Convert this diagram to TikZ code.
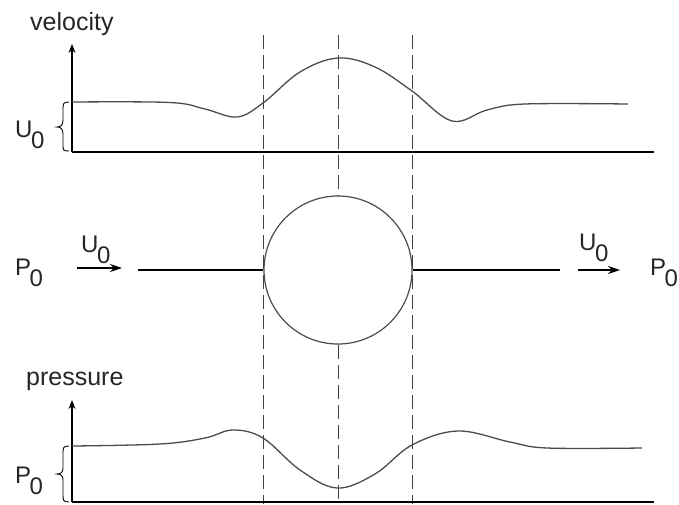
\documentclass[tikz,border=0pt]{standalone}
\usepackage{fontspec}
\setmainfont{Liberation Sans}
\usetikzlibrary{arrows.meta}
\newcommand{\subzero}[1]{#1\kern-1.5pt\raisebox{-11pt}{0}}
\tikzset{
  axis/.style={line width=1.2pt, black, -{Stealth[length=9pt,width=7pt]}},
  baseaxis/.style={line width=1.2pt, black},
  curve/.style={line width=1.3pt, black!70},
  guide/.style={line width=1pt, black!75, dash pattern=on 14pt off 6pt},
  flowarrow/.style={line width=1.1pt, black, -{Stealth[length=12pt,width=8pt]}},
  flowline/.style={line width=1.1pt, black},
  ball/.style={line width=1.2pt, black!70},
  bracestyle/.style={line width=0.9pt, black},
  word/.style={inner sep=0pt, anchor=base west, text=black!85, font=\fontsize{25}{30}\selectfont},
  sym/.style={inner sep=0pt, anchor=base west, text=black!85, font=\fontsize{24}{28}\selectfont}
}
\begin{document}
\begin{tikzpicture}[x=1pt,y=-1pt]
\useasboundingbox (0,0) rectangle (679,504);
\fill[white] (0,0) rectangle (679,504);

% ---------- velocity graph ----------
\coordinate (vo) at (72,152);
\coordinate (vtop) at (72,44);
\coordinate (vend) at (654,152);
\draw[axis] (vo) -- (vtop);
\draw[baseaxis] (vo) -- (vend);
\node[word] (vlab) at (30,30) {velocity};
\draw[curve] plot[smooth, tension=0.6] coordinates {
 (72,102) (170,102.5) (205,109) (237,117) (263,103) (300,72) (338,58)
 (375,67) (412,91) (452,121) (487,110) (525,104) (628,104)};
\draw[bracestyle] (69,102) .. controls (63,102) and (63,104) .. (63,109)
  -- (63,120) .. controls (63,125) and (61,127) .. (57,127)
  .. controls (61,127) and (63,129) .. (63,134)
  -- (63,145) .. controls (63,150) and (63,151) .. (69,151);
\node[sym] (ulab) at (15,137) {\subzero{U}};

% ---------- guides ----------
\coordinate (g1t) at (263,35);
\coordinate (g1b) at (263,504);
\coordinate (g3t) at (412,35);
\coordinate (g3b) at (412,504);
\coordinate (g2t) at (338,35);
\coordinate (g2b) at (338,504);

% ---------- body ----------
\node[circle, draw, ball, minimum size=148pt, inner sep=0pt] (sph) at (338,270) {};
\draw[guide] (g1t) -- (g1b);
\draw[guide] (g3t) -- (g3b);
\draw[guide] (g2t) -- (sph.north);
\draw[guide] (sph.south) -- (g2b);

\coordinate (lline) at (138,270);
\coordinate (rline) at (560,270);
\draw[flowline] (lline) -- (sph.west);
\draw[flowline] (sph.east) -- (rline);

\coordinate (la1) at (77,268);
\coordinate (la2) at (122,268);
\draw[flowarrow] (la1) -- (la2);
\coordinate (ra1) at (578,270);
\coordinate (ra2) at (620,270);
\draw[flowarrow] (ra1) -- (ra2);

\node[sym] (pleft) at (15,275) {\subzero{P}};
\node[sym] (uleft) at (81,252) {\subzero{U}};
\node[sym] (uright) at (579,250) {\subzero{U}};
\node[sym] (pright) at (650,275) {\subzero{P}};

% ---------- pressure graph ----------
\coordinate (po) at (72,502);
\coordinate (ptop) at (72,400);
\coordinate (pend) at (654,502);
\draw[axis] (po) -- (ptop);
\draw[baseaxis] (po) -- (pend);
\node[word] (plab) at (26,385) {pressure};
\draw[curve] plot[smooth, tension=0.6] coordinates {
 (72,446) (160,444) (205,438) (233,430) (263,438) (300,470) (337,488)
 (375,474) (412,445) (458,431) (510,442) (547,448) (642,448)};
\draw[bracestyle] (69,446) .. controls (63,446) and (63,448) .. (63,453)
  -- (63,468) .. controls (63,472) and (61,474) .. (57,474)
  .. controls (61,474) and (63,476) .. (63,480)
  -- (63,495) .. controls (63,500) and (63,502) .. (69,502);
\node[sym] (plabel) at (15,483) {\subzero{P}};
\end{tikzpicture}
\end{document}
